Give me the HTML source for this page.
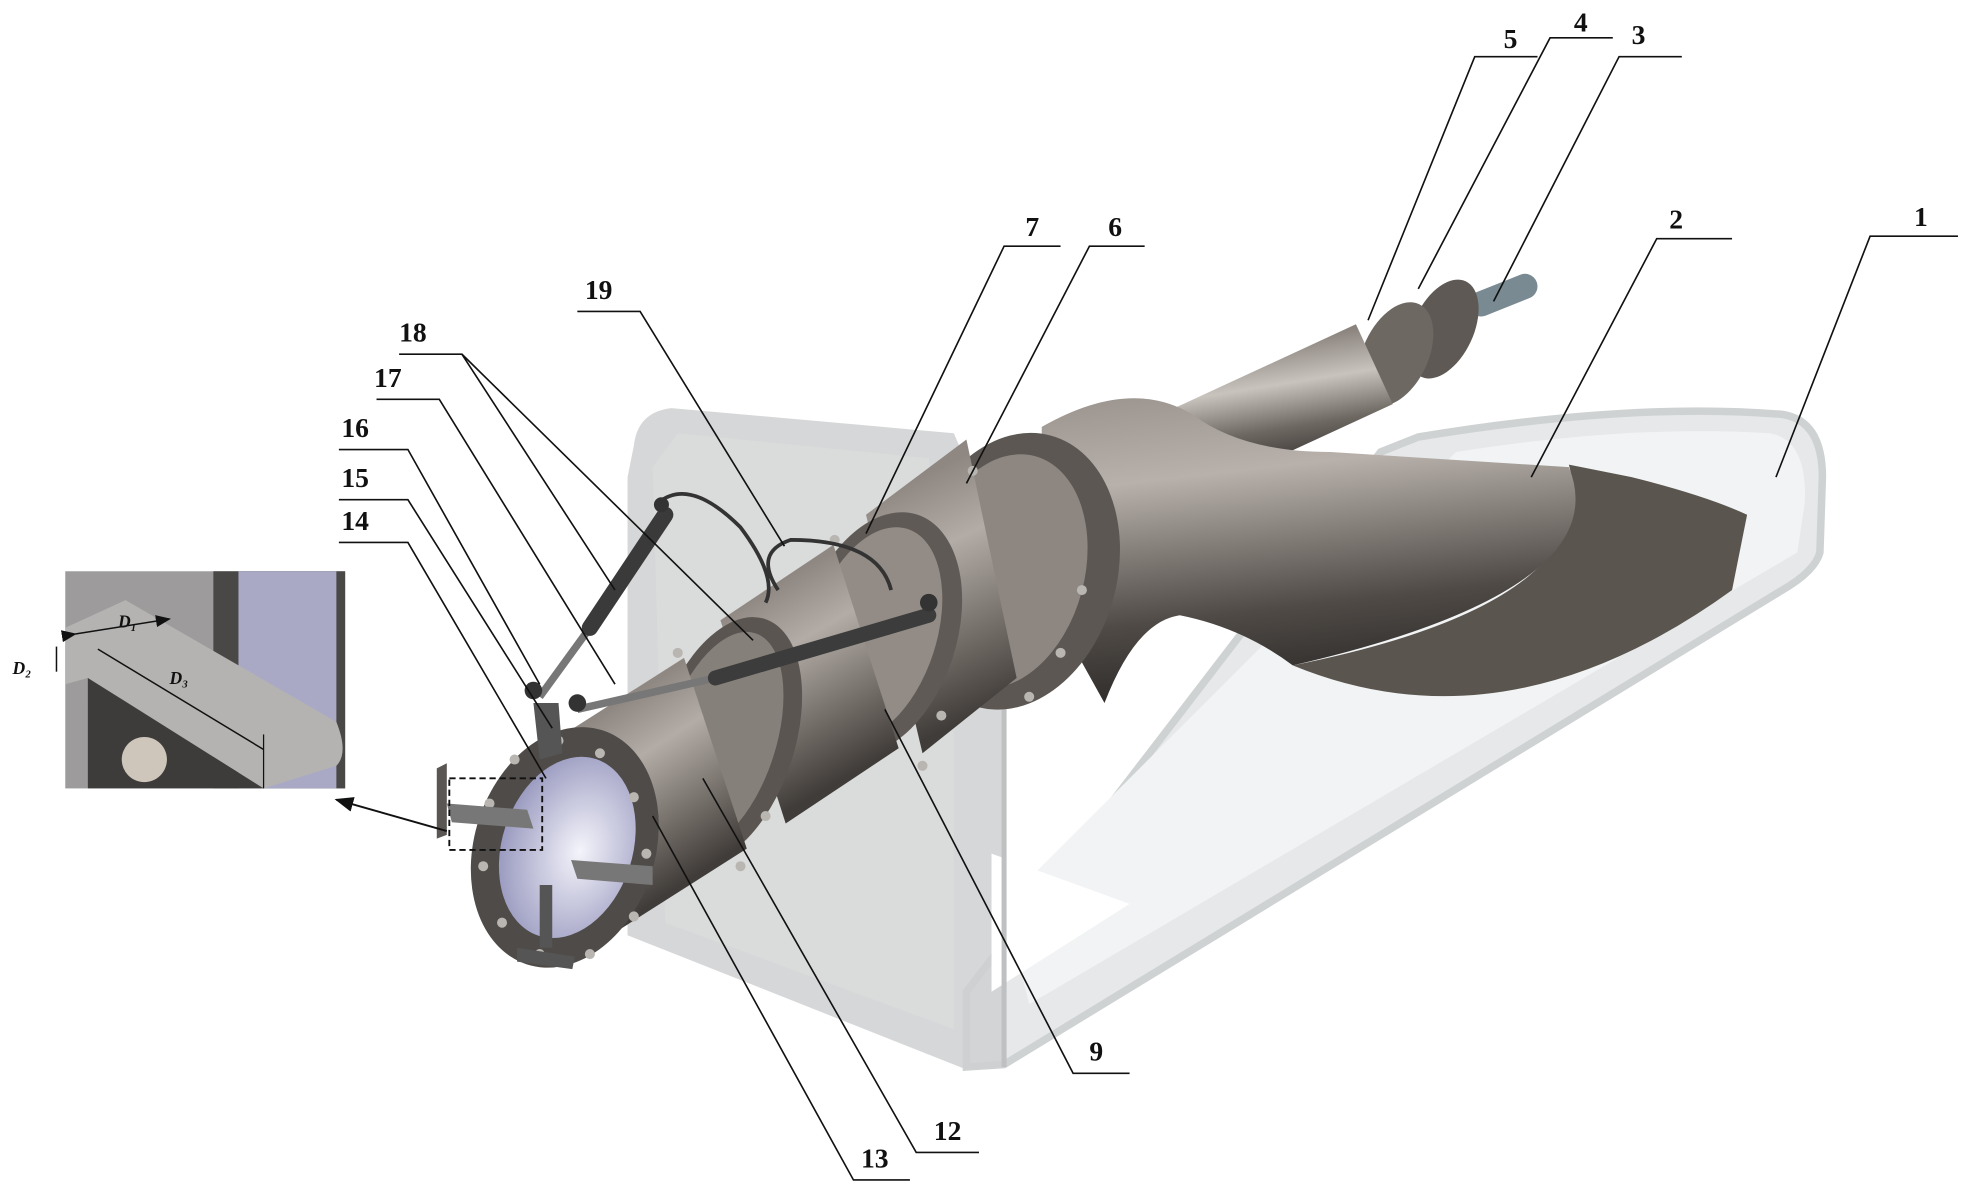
<!DOCTYPE html>
<html><head><meta charset="utf-8"><style>
html,body{margin:0;padding:0;background:#fff;width:1968px;height:1194px;overflow:hidden}
svg{display:block}
text{font-family:"Liberation Serif",serif;font-weight:bold;font-size:22px;fill:#111}
</style></head><body>
<svg width="1968" height="1194" viewBox="0 0 1568 951" xmlns="http://www.w3.org/2000/svg">
<defs>
<linearGradient id="pg" x1="0" y1="0" x2="0.35" y2="1">
<stop offset="0" stop-color="#8a837d"/><stop offset="0.35" stop-color="#c9c3bd"/><stop offset="0.7" stop-color="#6e6862"/><stop offset="1" stop-color="#3a3633"/></linearGradient>
<linearGradient id="c12" gradientUnits="userSpaceOnUse" x1="470" y1="575" x2="550" y2="700">
<stop offset="0" stop-color="#8f8882"/><stop offset="0.3" stop-color="#b3aca6"/><stop offset="0.75" stop-color="#6a645f"/><stop offset="1" stop-color="#403c39"/></linearGradient>
<linearGradient id="c9" gradientUnits="userSpaceOnUse" x1="610" y1="470" x2="690" y2="610">
<stop offset="0" stop-color="#8f8882"/><stop offset="0.3" stop-color="#b3aca6"/><stop offset="0.75" stop-color="#6a645f"/><stop offset="1" stop-color="#403c39"/></linearGradient>
<linearGradient id="c7" gradientUnits="userSpaceOnUse" x1="720" y1="385" x2="800" y2="560">
<stop offset="0" stop-color="#8f8882"/><stop offset="0.3" stop-color="#b3aca6"/><stop offset="0.75" stop-color="#6a645f"/><stop offset="1" stop-color="#403c39"/></linearGradient>
<linearGradient id="eg" x1="0" y1="0" x2="0.2" y2="1">
<stop offset="0" stop-color="#9b948e"/><stop offset="0.3" stop-color="#b8b1ab"/><stop offset="0.75" stop-color="#4f4a46"/><stop offset="1" stop-color="#2f2c2a"/></linearGradient>
<radialGradient id="bore" cx="0.6" cy="0.5" r="0.6"><stop offset="0" stop-color="#f4f4fb"/><stop offset="1" stop-color="#9a9ac0"/></radialGradient>
<marker id="ah" markerWidth="10" markerHeight="8" refX="9" refY="4" orient="auto"><path d="M0,0 L10,4 L0,8z" fill="#111"/></marker>
</defs>

<!-- frame tray -->
<path d="M1130,348 Q1300,320 1420,330 Q1452,335 1452,380 L1450,440 Q1446,455 1420,470 L800,848 L770,850 L770,790 L1100,360z" fill="#e6e8e9" stroke="#cfd2d3" stroke-width="6"/>
<path d="M1160,360 Q1300,338 1410,345 Q1440,350 1438,400 L1432,440 L820,800 L800,720z" fill="#f1f3f4"/>
<!-- left box -->
<path d="M505,355 Q508,328 535,325 L760,345 L800,440 L800,850 L770,852 L500,745 L500,380z" fill="#cfd0d1" opacity="0.85"/>
<path d="M520,372 L540,345 L740,365 L760,500 L760,820 L530,735z" fill="#dcdddd" opacity="0.7"/>
<path d="M790,680 L900,720 L790,790z" fill="#fff"/>
<path d="M800,560 L800,850" stroke="#bfc0c1" stroke-width="4"/>

<!-- rear pipe & rod -->
<line x1="1180" y1="242" x2="1215" y2="228" stroke="#7a8a92" stroke-width="20" stroke-linecap="round"/>
<ellipse cx="1150" cy="262" rx="24" ry="42" transform="rotate(25 1150 262)" fill="#5e5954"/>
<ellipse cx="1112" cy="282" rx="26" ry="44" transform="rotate(25 1112 282)" fill="#6e6863"/>
<line x1="1095" y1="290" x2="900" y2="380" stroke="url(#pg)" stroke-width="70"/>
<!-- elbow / outlet -->
<path d="M1030,530 Q1200,600 1380,470 L1392,410 Q1360,395 1300,380 L1250,370 Q1280,480 1030,530z" fill="#5b5550"/>
<path d="M830,340 Q900,300 950,330 Q990,360 1060,360 L1250,372 Q1290,470 1030,530 Q990,500 940,490 Q905,495 880,560 L830,470z" fill="url(#eg)"/>
<!-- flange 6 -->
<ellipse cx="808" cy="455" rx="82" ry="112" transform="rotate(15 808 455)" fill="#5c5752"/>
<ellipse cx="800" cy="455" rx="64" ry="95" transform="rotate(15 800 455)" fill="#8e8781"/>
<!-- short cylinder between 7 and 6 -->
<polygon points="690,410 770,350 810,540 735,600" fill="url(#c7)"/>
<!-- flange 7 -->
<ellipse cx="700" cy="505" rx="62" ry="100" transform="rotate(18 700 505)" fill="#5f5a55"/>
<ellipse cx="696" cy="505" rx="50" ry="88" transform="rotate(18 696 505)" fill="#938c86"/>
<!-- section 9 -->
<polygon points="574,494 664,434 716,596 626,656" fill="url(#c9)"/>
<!-- flange 12/9 -->
<ellipse cx="578" cy="590" rx="55" ry="102" transform="rotate(18 578 590)" fill="#5a5551"/>
<ellipse cx="574" cy="590" rx="44" ry="90" transform="rotate(18 574 590)" fill="#86807a"/>
<!-- section 12 -->
<polygon points="435,594 545,524 595,676 485,746" fill="url(#c12)"/>
<!-- front flange 14 -->
<ellipse cx="450" cy="675" rx="72" ry="98" transform="rotate(18 450 675)" fill="#4f4b48"/>
<ellipse cx="452" cy="675" rx="52" ry="74" transform="rotate(18 452 675)" fill="url(#bore)"/>
<g fill="#b9b5b1">
<circle cx="410" cy="605" r="4"/><circle cx="445" cy="590" r="4"/><circle cx="478" cy="600" r="4"/><circle cx="505" cy="635" r="4"/><circle cx="515" cy="680" r="4"/><circle cx="505" cy="730" r="4"/><circle cx="470" cy="760" r="4"/><circle cx="430" cy="760" r="4"/><circle cx="400" cy="735" r="4"/><circle cx="385" cy="690" r="4"/><circle cx="390" cy="640" r="4"/>
<circle cx="540" cy="520" r="4"/><circle cx="610" cy="650" r="4"/><circle cx="590" cy="690" r="4"/>
<circle cx="665" cy="430" r="4"/><circle cx="750" cy="570" r="4"/><circle cx="735" cy="610" r="4"/>
<circle cx="775" cy="375" r="4"/><circle cx="862" cy="470" r="4"/><circle cx="845" cy="520" r="4"/><circle cx="820" cy="555" r="4"/>
</g>
<!-- brackets -->
<path d="M348,612 L356,608 L356,665 L348,668z" fill="#5a5653"/>
<path d="M356,640 L420,645 L425,660 L360,655z" fill="#777"/>
<path d="M455,685 L520,690 L520,705 L460,700z" fill="#777"/>
<path d="M430,705 L440,705 L440,755 L430,755z" fill="#555"/>
<path d="M412,755 L458,762 L456,772 L412,766z" fill="#555"/>
<path d="M425,560 L445,560 L448,600 L430,605z" fill="#555"/>
<!-- actuators -->
<line x1="430" y1="555" x2="470" y2="500" stroke="#777" stroke-width="6"/>
<line x1="470" y1="500" x2="530" y2="410" stroke="#3a3a3a" stroke-width="13" stroke-linecap="round"/>
<line x1="460" y1="565" x2="570" y2="540" stroke="#777" stroke-width="6"/>
<line x1="570" y1="540" x2="740" y2="490" stroke="#3c3c3c" stroke-width="12" stroke-linecap="round"/>
<circle cx="740" cy="480" r="7" fill="#333"/><circle cx="527" cy="402" r="6" fill="#333"/>
<circle cx="425" cy="550" r="7" fill="#333"/><circle cx="460" cy="560" r="7" fill="#333"/>
<path d="M525,400 Q550,380 590,420 Q620,460 610,480 M620,470 Q600,440 630,430 Q700,430 710,470" fill="none" stroke="#333" stroke-width="3"/>

<!-- inset -->
<rect x="52" y="455" width="223" height="173" fill="#9d9b9b"/>
<rect x="170" y="455" width="105" height="173" fill="#4a4846"/>
<rect x="190" y="455" width="78" height="173" fill="#a9a9c6"/>
<path d="M52,500 L100,478 L268,575 Q278,600 268,610 L210,628 L70,540 L52,545z" fill="#b4b3b2"/>
<path d="M70,540 L210,628 L70,628z" fill="#3e3c3b"/>
<circle cx="115" cy="605" r="18" fill="#cfc6bb"/>
<line x1="60" y1="505" x2="135" y2="493" stroke="#111" stroke-width="1.2" marker-end="url(#ah)" marker-start="url(#ah)"/>
<line x1="78" y1="517" x2="210" y2="597" stroke="#111" stroke-width="1.2"/>
<line x1="45" y1="515" x2="45" y2="535" stroke="#111" stroke-width="1.2"/>
<line x1="210" y1="585" x2="210" y2="628" stroke="#111" stroke-width="1"/>
<text x="94" y="500" style="font-size:14px;font-style:italic">D₁</text>
<text x="10" y="537" style="font-size:14px;font-style:italic">D₂</text>
<text x="135" y="545" style="font-size:14px;font-style:italic">D₃</text>
<rect x="358" y="620" width="74" height="57" fill="none" stroke="#111" stroke-width="1.5" stroke-dasharray="5,3"/>
<line x1="356" y1="662" x2="268" y2="637" stroke="#111" stroke-width="1.5" marker-end="url(#ah)"/>

<!-- leaders -->
<g stroke="#111" stroke-width="1.3" fill="none">
<path d="M1560,188 L1490,188 L1415,380"/>
<path d="M1380,190 L1320,190 L1220,380"/>
<path d="M1340,45 L1290,45 L1190,240"/>
<path d="M1285,30 L1235,30 L1130,230"/>
<path d="M1225,45 L1175,45 L1090,255"/>
<path d="M912,196 L868,196 L770,385"/>
<path d="M845,196 L800,196 L690,425"/>
<path d="M460,248 L510,248 L625,435"/>
<path d="M318,282 L368,282 L490,470 M368,282 L600,510"/>
<path d="M300,318 L350,318 L490,545"/>
<path d="M270,358 L325,358 L430,545"/>
<path d="M270,398 L325,398 L440,580"/>
<path d="M270,432 L325,432 L435,620"/>
<path d="M725,940 L680,940 L520,650"/>
<path d="M780,918 L730,918 L560,620"/>
<path d="M900,855 L855,855 L705,565"/>
</g>
<text x="1525" y="180">1</text>
<text x="1330" y="182">2</text>
<text x="1300" y="35">3</text>
<text x="1254" y="25">4</text>
<text x="1198" y="38">5</text>
<text x="883" y="188">6</text>
<text x="817" y="188">7</text>
<text x="466" y="238">19</text>
<text x="318" y="272">18</text>
<text x="298" y="308">17</text>
<text x="272" y="348">16</text>
<text x="272" y="388">15</text>
<text x="272" y="422">14</text>
<text x="686" y="930">13</text>
<text x="744" y="908">12</text>
<text x="868" y="845">9</text>
</svg>
</body></html>
